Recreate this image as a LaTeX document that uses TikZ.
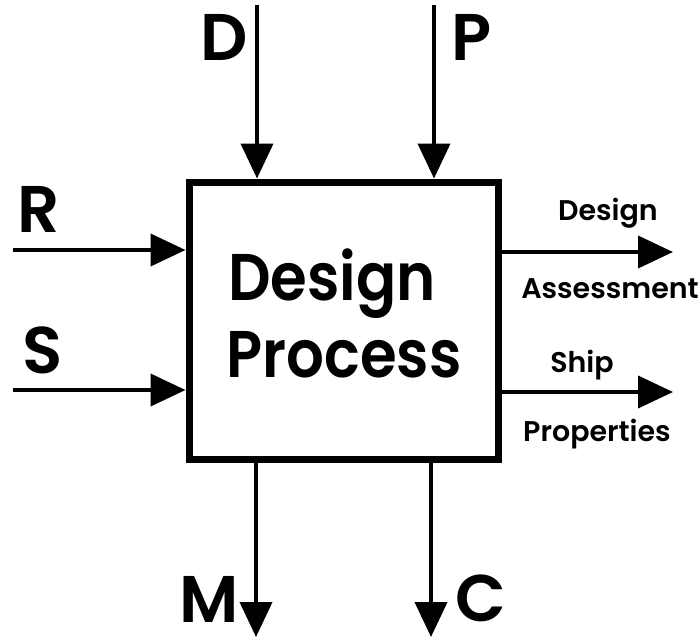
\documentclass[tikz,border=0pt]{standalone}
\usepackage{fontspec}
\setmainfont{Poppins}[BoldFont={* SemiBold}]
\usetikzlibrary{arrows.meta}
\begin{document}
\begin{tikzpicture}[x=1pt,y=-1pt,
  flow/.style={line width=4pt,-{Triangle[width=32pt,length=35pt]}},
  big/.style={font=\fontsize{66}{66}\selectfont\bfseries,anchor=base,inner sep=0pt,text depth=0pt},
  mid/.style={font=\fontsize{66}{66}\selectfont\bfseries,anchor=base,inner sep=0pt},
  small/.style={font=\fontsize{28.5}{28.5}\selectfont\bfseries,anchor=base,inner sep=0pt}]
\useasboundingbox (0,0) rectangle (699,638);
\node[draw,line width=7pt,minimum width=309pt,minimum height=277pt,inner sep=0pt] (box) at (343.5,320.5) {};
\node[mid] (t1) at (332,300) {\scalebox{0.9}[1]{Design}};
\node[mid] (t2) at (344,377) {\scalebox{0.9}[1]{Process}};
% top inputs
\coordinate (dtop) at (257,5);
\coordinate (ptop) at (434,5);
\draw[flow] (dtop) -- (dtop |- box.north);
\draw[flow] (ptop) -- (ptop |- box.north);
\node[big] (ld) at (224,60) {D};
\node[big] (lp) at (472,60) {P};
% left inputs
\coordinate (rin) at (13,250);
\coordinate (sin) at (13,390);
\draw[flow] (rin) -- (rin -| box.west);
\draw[flow] (sin) -- (sin -| box.west);
\node[big] (lr) at (39,232) {R};
\node[big] (ls) at (43,373) {S};
% right outputs
\coordinate (aout) at (673,252);
\coordinate (bout) at (673,392);
\draw[flow] (aout -| box.east) -- (aout);
\draw[flow] (bout -| box.east) -- (bout);
\node[small] (o1) at (608,220) {Design};
\node[small] (o2) at (610,298) {Assessment};
\node[small] (o3) at (582,372) {Ship};
\node[small] (o4) at (597,441) {Properties};
% bottom outputs
\coordinate (mout) at (256,637);
\coordinate (cout) at (431,637);
\draw[flow] (mout |- box.south) -- (mout);
\draw[flow] (cout |- box.south) -- (cout);
\node[big] (lm) at (209,622) {M};
\node[big] (lc) at (481,621) {C};
\end{tikzpicture}
\end{document}
